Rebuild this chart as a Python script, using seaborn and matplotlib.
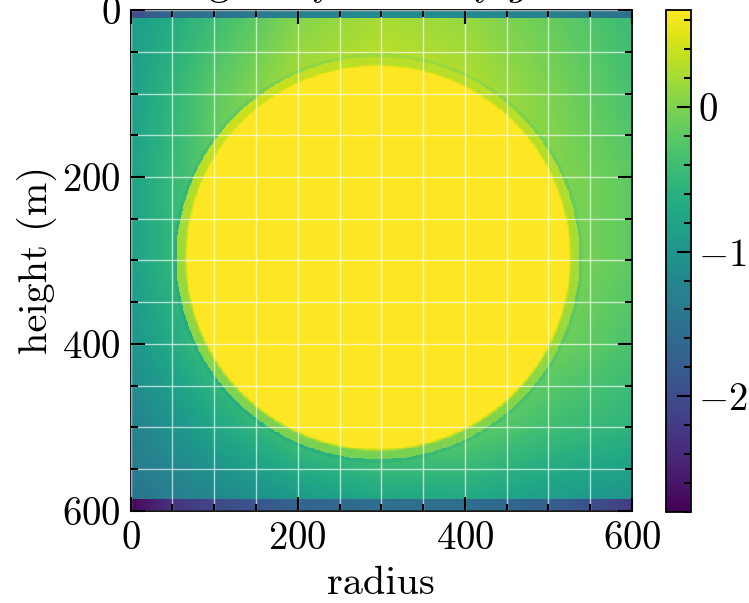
import numpy as np
import matplotlib
matplotlib.use("Agg")
import matplotlib.pyplot as plt
from matplotlib.ticker import MultipleLocator, FixedLocator
import seaborn as sns

plt.rcParams["font.family"] = ["serif"]
plt.rcParams["font.serif"] = ["cmr10", "DejaVu Serif"]
plt.rcParams["mathtext.fontset"] = "cm"
plt.rcParams["axes.formatter.use_mathtext"] = True

# field samples (background, on a 100 m grid)
bg_x = [0, 100, 200, 300, 400, 500, 600]
bg_y = [0, 100, 200, 300, 400, 500, 600]
bg_values = [
    [-0.90, -0.45, 0.00, 0.20, 0.10, -0.15, -0.45],
    [-0.85, -0.20, 0.25, 0.40, 0.30, 0.00, -0.35],
    [-0.80, -0.15, 0.35, 0.50, 0.40, 0.05, -0.20],
    [-0.82, -0.20, 0.30, 0.50, 0.40, 0.05, -0.19],
    [-1.00, -0.35, 0.15, 0.35, 0.25, -0.05, -0.33],
    [-1.30, -0.75, -0.30, -0.10, -0.15, -0.40, -0.55],
    [-1.50, -1.30, -1.05, -0.85, -0.80, -0.95, -1.10],
]

# sphere: centre, outer ring radius, inner core radius
sphere_centre = (296, 297)
r_outer = 245
r_inner = 229
core_value = 1.0
ring_angle = [0, 45, 90, 135, 180, 225, 270, 315, 360]
ring_values = [0.22, 0.05, -0.05, 0.0, 0.15, 0.40, 0.30, 0.30, 0.22]

# boundary rows at top and bottom
strip_x = [0, 50, 100, 200, 300, 400, 500, 550, 600]
top_strip = [-2.05, -1.6, -1.5, -1.3, -1.15, -1.15, -1.3, -1.4, -1.55]
bottom_strip = [-2.75, -2.3, -2.05, -1.7, -1.55, -1.55, -1.75, -1.95, -2.2]
top_rows = 10
bottom_rows = 14

n = 600
xs = np.arange(n) + 0.5
ys = np.arange(n) + 0.5

rows = np.array([np.interp(xs, bg_x, r) for r in bg_values])
bg = np.array([np.interp(ys, bg_y, rows[:, j]) for j in range(n)]).T

X, Y = np.meshgrid(xs, ys)
dx, dy = X - sphere_centre[0], Y - sphere_centre[1]
r = np.hypot(dx, dy)
ang = np.degrees(np.arctan2(dy, dx)) % 360
ring = np.interp(ang, ring_angle, ring_values)

field = np.where(r < r_outer, ring, bg)
edge = (r >= r_outer - 4) & (r < r_outer)
field[edge] = np.minimum(ring, bg)[edge] - 0.12
w = np.clip((r_inner + 3 - r) / 6, 0, 1)
field = field * (1 - w) + core_value * w
field[:top_rows, :] = np.interp(xs, strip_x, top_strip)
field[n - bottom_rows:, :] = np.interp(xs, strip_x, bottom_strip)

fig = plt.figure(figsize=(7.49, 6.03), dpi=100)
ax = fig.add_axes([0.1745, 0.1526, 0.6693, 0.8308])
cax = fig.add_axes([0.8892, 0.1509, 0.0334, 0.8325])

sns.heatmap(field, cmap="viridis", vmin=-2.8, vmax=0.67, ax=ax, cbar_ax=cax,
            xticklabels=False, yticklabels=False, rasterized=True)

for s in ax.spines.values():
    s.set_visible(True)
    s.set_linewidth(1.3)
    s.set_color("black")

ticks = [0, 200, 400, 600]
ax.set_xticks(ticks)
ax.set_yticks(ticks)
ax.set_xticklabels([f"${t}$" for t in ticks])
ax.set_yticklabels([f"${t}$" for t in ticks], rotation=0)
ax.xaxis.set_minor_locator(MultipleLocator(50))
ax.yaxis.set_minor_locator(MultipleLocator(50))
ax.tick_params(which="both", direction="in", top=True, right=True,
               bottom=True, left=True, labelsize=28, width=1.5, color="black")
ax.tick_params(which="major", length=10, pad=7)
ax.tick_params(which="minor", length=5)
ax.grid(which="both", color="white", alpha=0.65, lw=1.0)
ax.set_axisbelow(False)
ax.set_xlabel("radius", fontsize=29, labelpad=7)
ax.set_ylabel("height (m)", fontsize=29, labelpad=4)

cbar = ax.collections[0].colorbar
cbar.outline.set_linewidth(1.3)
cbar.outline.set_edgecolor("black")
cax.yaxis.set_major_locator(FixedLocator([-2, -1, 0]))
cax.set_yticklabels(["$-2$", "$-1$", "$0$"])
cax.yaxis.set_minor_locator(MultipleLocator(0.2))
cax.tick_params(which="both", direction="in", right=True, left=False,
                labelsize=28, width=1.5, color="black", pad=5)
cax.tick_params(which="major", length=10)
cax.tick_params(which="minor", length=5)

# title sits almost entirely above the top edge, as in the reference
fig.text(0.87, 1 + 4 / 603, r"gravity anomaly $g$ $\times10^{-5}$",
         ha="right", va="baseline", fontsize=29)

fig.savefig("out.png", dpi=100)
